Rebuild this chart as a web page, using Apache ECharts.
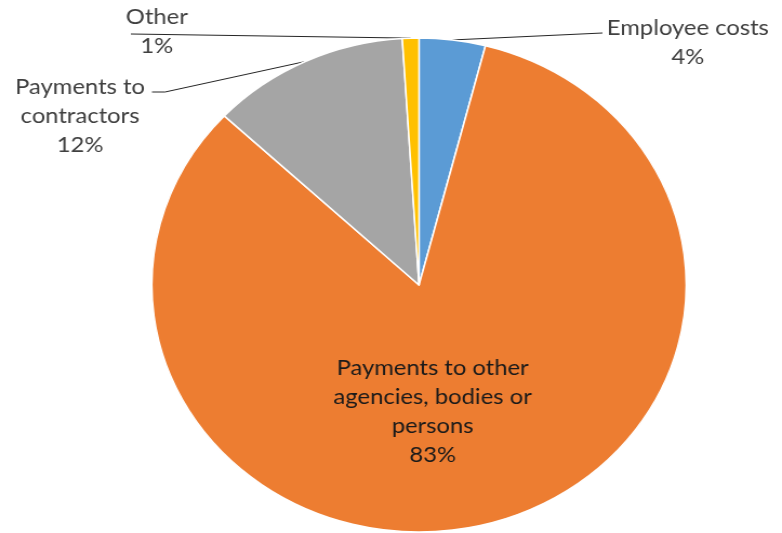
<!DOCTYPE html>
<html>
<head>
<meta charset="utf-8">
<script src="https://cdn.jsdelivr.net/npm/echarts@6/dist/echarts.min.js"></script>
<style>
  html, body { margin: 0; padding: 0; background: #fff; overflow: hidden; }
  #wrap { width: 782px; height: 533px; overflow: hidden; }
  /* the chart is drawn slightly narrower and widened to fill the frame */
  #chart { width: 723px; height: 533px; transform: scaleX(1.0816); transform-origin: 0 0; }
</style>
</head>
<body>
<div id="wrap"><div id="chart"></div></div>
<script>
// Expenditure breakdown (percent of total)
const categories = [
  'Employee costs',
  'Payments to other agencies, bodies or persons',
  'Payments to contractors',
  'Other'
];
const values = [4, 83, 12, 1];
const sliceColors = ['#5B9BD5', '#ED7D31', '#A5A5A5', '#FFC000'];
// wrapped label text for each slice
const labelNames = [
  'Employee costs',
  'Payments to other\nagencies, bodies or\npersons',
  'Payments to\ncontractors',
  'Other'
];

// label placement (label centre, leader line end / bend points)
const labelPlacement = [
  { x: 636, y: 42, line: [[557, 33]] },
  { x: 400, y: 411, line: null },
  { x: 74, y: 116, line: [[152.6, 92], [140.5, 92]] },
  { x: 145, y: 31, line: [[121, 34]] }
];

const chart = echarts.init(document.getElementById('chart'), null, { renderer: 'canvas' });

const data = categories.map((name, i) => ({
  name: name,
  value: values[i],
  itemStyle: { color: sliceColors[i] },
  label: i === 1
    ? { position: 'inside', color: '#1a1a1a' }
    : { position: 'outside', color: '#404040' },
  labelLine: { show: i !== 1 }
}));

chart.setOption({
  animation: false,
  backgroundColor: '#ffffff',
  series: [{
    type: 'pie',
    center: [387.4, 285],
    radius: [0, 247],
    startAngle: 90,
    clockwise: true,
    avoidLabelOverlap: false,
    itemStyle: { borderColor: '#ffffff', borderWidth: 1.5 },
    label: {
      show: true,
      fontFamily: 'Lato',
      fontSize: 22,
      lineHeight: 29,
      align: 'center',
      formatter: p => labelNames[p.dataIndex] + '\n' + Math.round(p.value) + '%'
    },
    labelLine: {
      show: true,
      lineStyle: { color: '#262626', width: 1 }
    },
    labelLayout: function (params) {
      const pl = labelPlacement[params.dataIndex];
      const out = { x: pl.x, y: pl.y, align: 'center', verticalAlign: 'middle', hideOverlap: false };
      if (pl.line && params.labelLinePoints) {
        out.labelLinePoints = [params.labelLinePoints[0]].concat(pl.line);
      }
      return out;
    },
    data: data
  }]
});
</script>
</body>
</html>
